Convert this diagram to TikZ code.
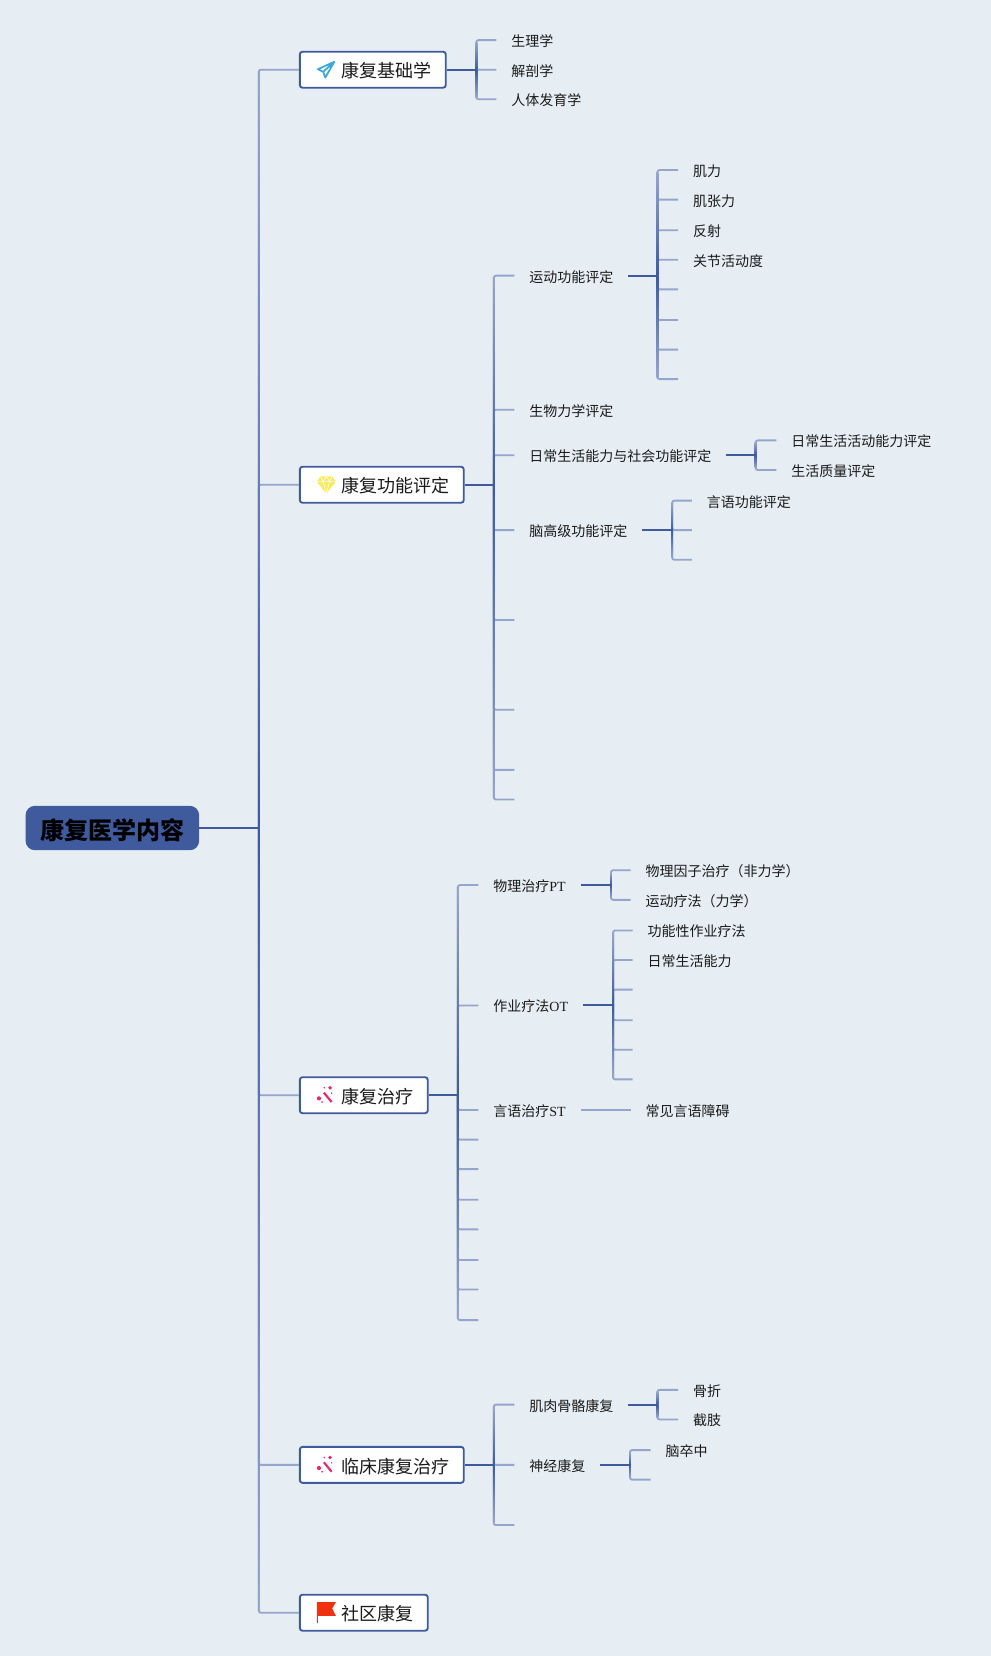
\documentclass[tikz,border=0pt]{standalone}
\usepackage{fontspec}
\setmainfont{Noto Sans CJK SC}
\newfontfamily\latn{Liberation Serif}
\definecolor{bgc}{HTML}{E6EEF4}
\definecolor{darkb}{HTML}{3F5A9D}
\definecolor{lightb}{HTML}{95A5CB}
\definecolor{ink}{HTML}{1A1A1A}
\definecolor{planec}{HTML}{3AA8D8}
\definecolor{wandc}{HTML}{E9286E}
\definecolor{flagc}{HTML}{F0300F}
\definecolor{gemc}{HTML}{F8EA62}
\newcommand{\spineb}[4]{% x, top, hub, bottom
  \shade[top color=lightb,bottom color=darkb] (#1-0.9,#2+2) rectangle (#1+0.9,#3);
  \shade[top color=darkb,bottom color=lightb] (#1-0.9,#3) rectangle (#1+0.9,#4-2);
}
\tikzset{
  x=0.7924pt,y=-0.7924pt,
  conn/.style={draw=lightb,line width=1.4pt,rounded corners=1.6pt},
  outc/.style={draw=darkb,line width=1.5pt},
  leaf/.style={anchor=west,inner xsep=11.1pt,inner ysep=0pt,font=\fontsize{10.5pt}{12pt}\selectfont,text=ink,text height=10.6pt,text depth=1pt},
  topic/.style={anchor=west,draw=darkb,fill=white,line width=1.4pt,rounded corners=2pt,inner sep=0pt,minimum height=27pt,font=\fontsize{13.5pt}{16pt}\selectfont,text=ink,text height=13.6pt,text depth=1.3pt},
  rootn/.style={anchor=west,fill=darkb,rounded corners=7pt,inner xsep=11.1pt,inner ysep=0pt,minimum height=33.3pt,font=\fontsize{18pt}{20pt}\selectfont\bfseries,text=black,text height=18.6pt,text depth=2pt},
}
\newcommand{\tbox}[1]{\hspace*{31.6pt}#1\hspace*{10.4pt}}
\begin{document}
\begin{tikzpicture}
\useasboundingbox[fill=bgc] (0,0) rectangle (938,1568);

% main nodes
\node[rootn] (root) at (24,784) {康复医学内容};
\node[topic] (t1) at (283,66) {\tbox{康复基础学}};
\node[topic] (t2) at (283,459) {\tbox{康复功能评定}};
\node[topic] (t3) at (283,1037) {\tbox{康复治疗}};
\node[topic] (t4) at (283,1387) {\tbox{临床康复治疗}};
\node[topic] (t5) at (283,1527) {\tbox{社区康复}};
\coordinate (h0) at (245,784);
\foreach \c in {t1,t2,t3,t4,t5} \draw[conn] (h0) |- (\c.west);
\spineb{245}{66}{784}{1527}
\draw[outc] (root.east) -- (h0);

% T1
\coordinate (h1) at (451,66);
\node[leaf] (a1) at (470,38) {生理学};
\node[leaf] (a2) at (470,66) {解剖学};
\node[leaf] (a3) at (470,94) {人体发育学};
\foreach \c in {a1,a2,a3} \draw[conn] (h1) |- (\c.west);
\spineb{451}{38}{66}{94}
\draw[outc] (t1.east) -- (h1);

% T2
\coordinate (h2) at (467.5,459);
\node[leaf] (b1) at (487,261) {运动功能评定};
\node[leaf] (b2) at (487,388) {生物力学评定};
\node[leaf] (b3) at (487,431) {日常生活能力与社会功能评定};
\node[leaf] (b4) at (487,502) {脑高级功能评定};
\coordinate (b5) at (487,587);
\coordinate (b6) at (487,672);
\coordinate (b7) at (487,729);
\coordinate (b8) at (487,757);
\foreach \c in {b1.west,b2.west,b3.west,b4.west,b5,b6,b7,b8} \draw[conn] (h2) |- (\c);
\spineb{467.5}{261}{459}{757}
\draw[outc] (t2.east) -- (h2);

% b1
\coordinate (hb1) at (622.5,261);
\node[leaf] (c1) at (642,161) {肌力};
\node[leaf] (c2) at (642,189) {肌张力};
\node[leaf] (c3) at (642,218) {反射};
\node[leaf] (c4) at (642,246) {关节活动度};
\coordinate (c5) at (642,274);
\coordinate (c6) at (642,303);
\coordinate (c7) at (642,331);
\coordinate (c8) at (642,359);
\foreach \c in {c1.west,c2.west,c3.west,c4.west,c5,c6,c7,c8} \draw[conn] (hb1) |- (\c);
\spineb{622.5}{161}{261}{359}
\draw[outc] (b1.east) -- (hb1);

% b3
\coordinate (hb3) at (715.5,431);
\node[leaf] (d1) at (735,417) {日常生活活动能力评定};
\node[leaf] (d2) at (735,445) {生活质量评定};
\foreach \c in {d1,d2} \draw[conn] (hb3) |- (\c.west);
\spineb{715.5}{417}{431}{445}
\draw[outc] (b3.east) -- (hb3);

% b4
\coordinate (hb4) at (636.5,502);
\node[leaf] (e1) at (655,474) {言语功能评定};
\coordinate (e2) at (655,502);
\coordinate (e3) at (655,530);
\foreach \c in {e1.west,e2,e3} \draw[conn] (hb4) |- (\c);
\spineb{636.5}{474}{502}{530}
\draw[outc] (b4.east) -- (hb4);

% T3
\coordinate (h3) at (433.5,1037);
\node[leaf] (f1) at (453,838) {物理治疗{\latn PT}};
\node[leaf] (f2) at (453,952) {作业疗法{\latn OT}};
\node[leaf] (f3) at (453,1051) {言语治疗{\latn ST}};
\coordinate (f4) at (453,1079);
\coordinate (f5) at (453,1107);
\coordinate (f6) at (453,1136);
\coordinate (f7) at (453,1164);
\coordinate (f8) at (453,1193);
\coordinate (f9) at (453,1221);
\coordinate (f10) at (453,1250);
\foreach \c in {f1.west,f2.west,f3.west,f4,f5,f6,f7,f8,f9,f10} \draw[conn] (h3) |- (\c);
\spineb{433.5}{838}{1037}{1250}
\draw[outc] (t3.east) -- (h3);

% f1
\coordinate (hf1) at (578.5,838);
\node[leaf] (g1) at (597,824) {物理因子治疗（非力学）};
\node[leaf] (g2) at (597,852) {运动疗法（力学）};
\foreach \c in {g1,g2} \draw[conn] (hf1) |- (\c.west);
\spineb{578.5}{824}{838}{852}
\draw[outc] (f1.east) -- (hf1);

% f2
\coordinate (hf2) at (580.5,952);
\node[leaf] (k1) at (599,881) {功能性作业疗法};
\node[leaf] (k2) at (599,909) {日常生活能力};
\coordinate (k3) at (599,937);
\coordinate (k4) at (599,966);
\coordinate (k5) at (599,994);
\coordinate (k6) at (599,1022);
\foreach \c in {k1.west,k2.west,k3,k4,k5,k6} \draw[conn] (hf2) |- (\c);
\spineb{580.5}{881}{952}{1022}
\draw[outc] (f2.east) -- (hf2);

% f3
\node[leaf] (m1) at (597,1051) {常见言语障碍};
\draw[conn] (f3.east) -- (m1.west);

% T4
\coordinate (h4) at (467.5,1387);
\node[leaf] (n1) at (487,1330) {肌肉骨骼康复};
\node[leaf] (n2) at (487,1387) {神经康复};
\coordinate (n3) at (487,1444);
\foreach \c in {n1.west,n2.west,n3} \draw[conn] (h4) |- (\c);
\spineb{467.5}{1330}{1387}{1444}
\draw[outc] (t4.east) -- (h4);

% n1
\coordinate (hn1) at (622.5,1330);
\node[leaf] (p1) at (642,1316) {骨折};
\node[leaf] (p2) at (642,1344) {截肢};
\foreach \c in {p1,p2} \draw[conn] (hn1) |- (\c.west);
\spineb{622.5}{1316}{1330}{1344}
\draw[outc] (n1.east) -- (hn1);

% n2
\coordinate (hn2) at (596.5,1387);
\node[leaf] (q1) at (616,1373) {脑卒中};
\coordinate (q2) at (616,1401);
\foreach \c in {q1.west,q2} \draw[conn] (hn2) |- (\c);
\spineb{596.5}{1373}{1387}{1401}
\draw[outc] (n2.east) -- (hn2);

% icons
% paper plane
\begin{scope}[shift={(309,66)}]
\draw[draw=planec,line width=1.3pt,line join=round]
 (7.5,-7.5) -- (-8,-0.5) -- (-3,2) -- (-1,7.5) -- cycle (7.5,-7.5) -- (-3,2) (-1,7.5) -- (1.5,3);
\end{scope}
% diamond
\begin{scope}[shift={(309,459)}]
\fill[gemc] (-5.5,-8) -- (5.5,-8) -- (9,-3) -- (0,8.5) -- (-9,-3) -- cycle;
\draw[white,line width=0.4pt] (-9,-3) -- (9,-3) (-3,-3) -- (0,8.5) -- (3,-3) (-5.5,-8) -- (-3,-3) -- (0,-8) -- (3,-3) -- (5.5,-8);
\end{scope}
% wands
\foreach \yy in {1037,1387}{
\begin{scope}[shift={(309,\yy)}]
\draw[draw=wandc,line width=1.6pt] (-2.3,-2.4) -- (5,6.5);
\fill[wandc] (-7,3) circle (2) (3.5,-7) circle (1.8) (-2,-7) circle (0.8) (-4,6.5) circle (0.9) (5,-2) circle (0.8);
\end{scope}}
% flag
\begin{scope}[shift={(309,1527)}]
\fill[flagc] (-9,-10) -- (9,-10) -- (5.5,-4) -- (9,3) -- (-8,3) -- (-8,9.5) -- (-9,9.5) -- cycle;
\end{scope}
\end{tikzpicture}
\end{document}
